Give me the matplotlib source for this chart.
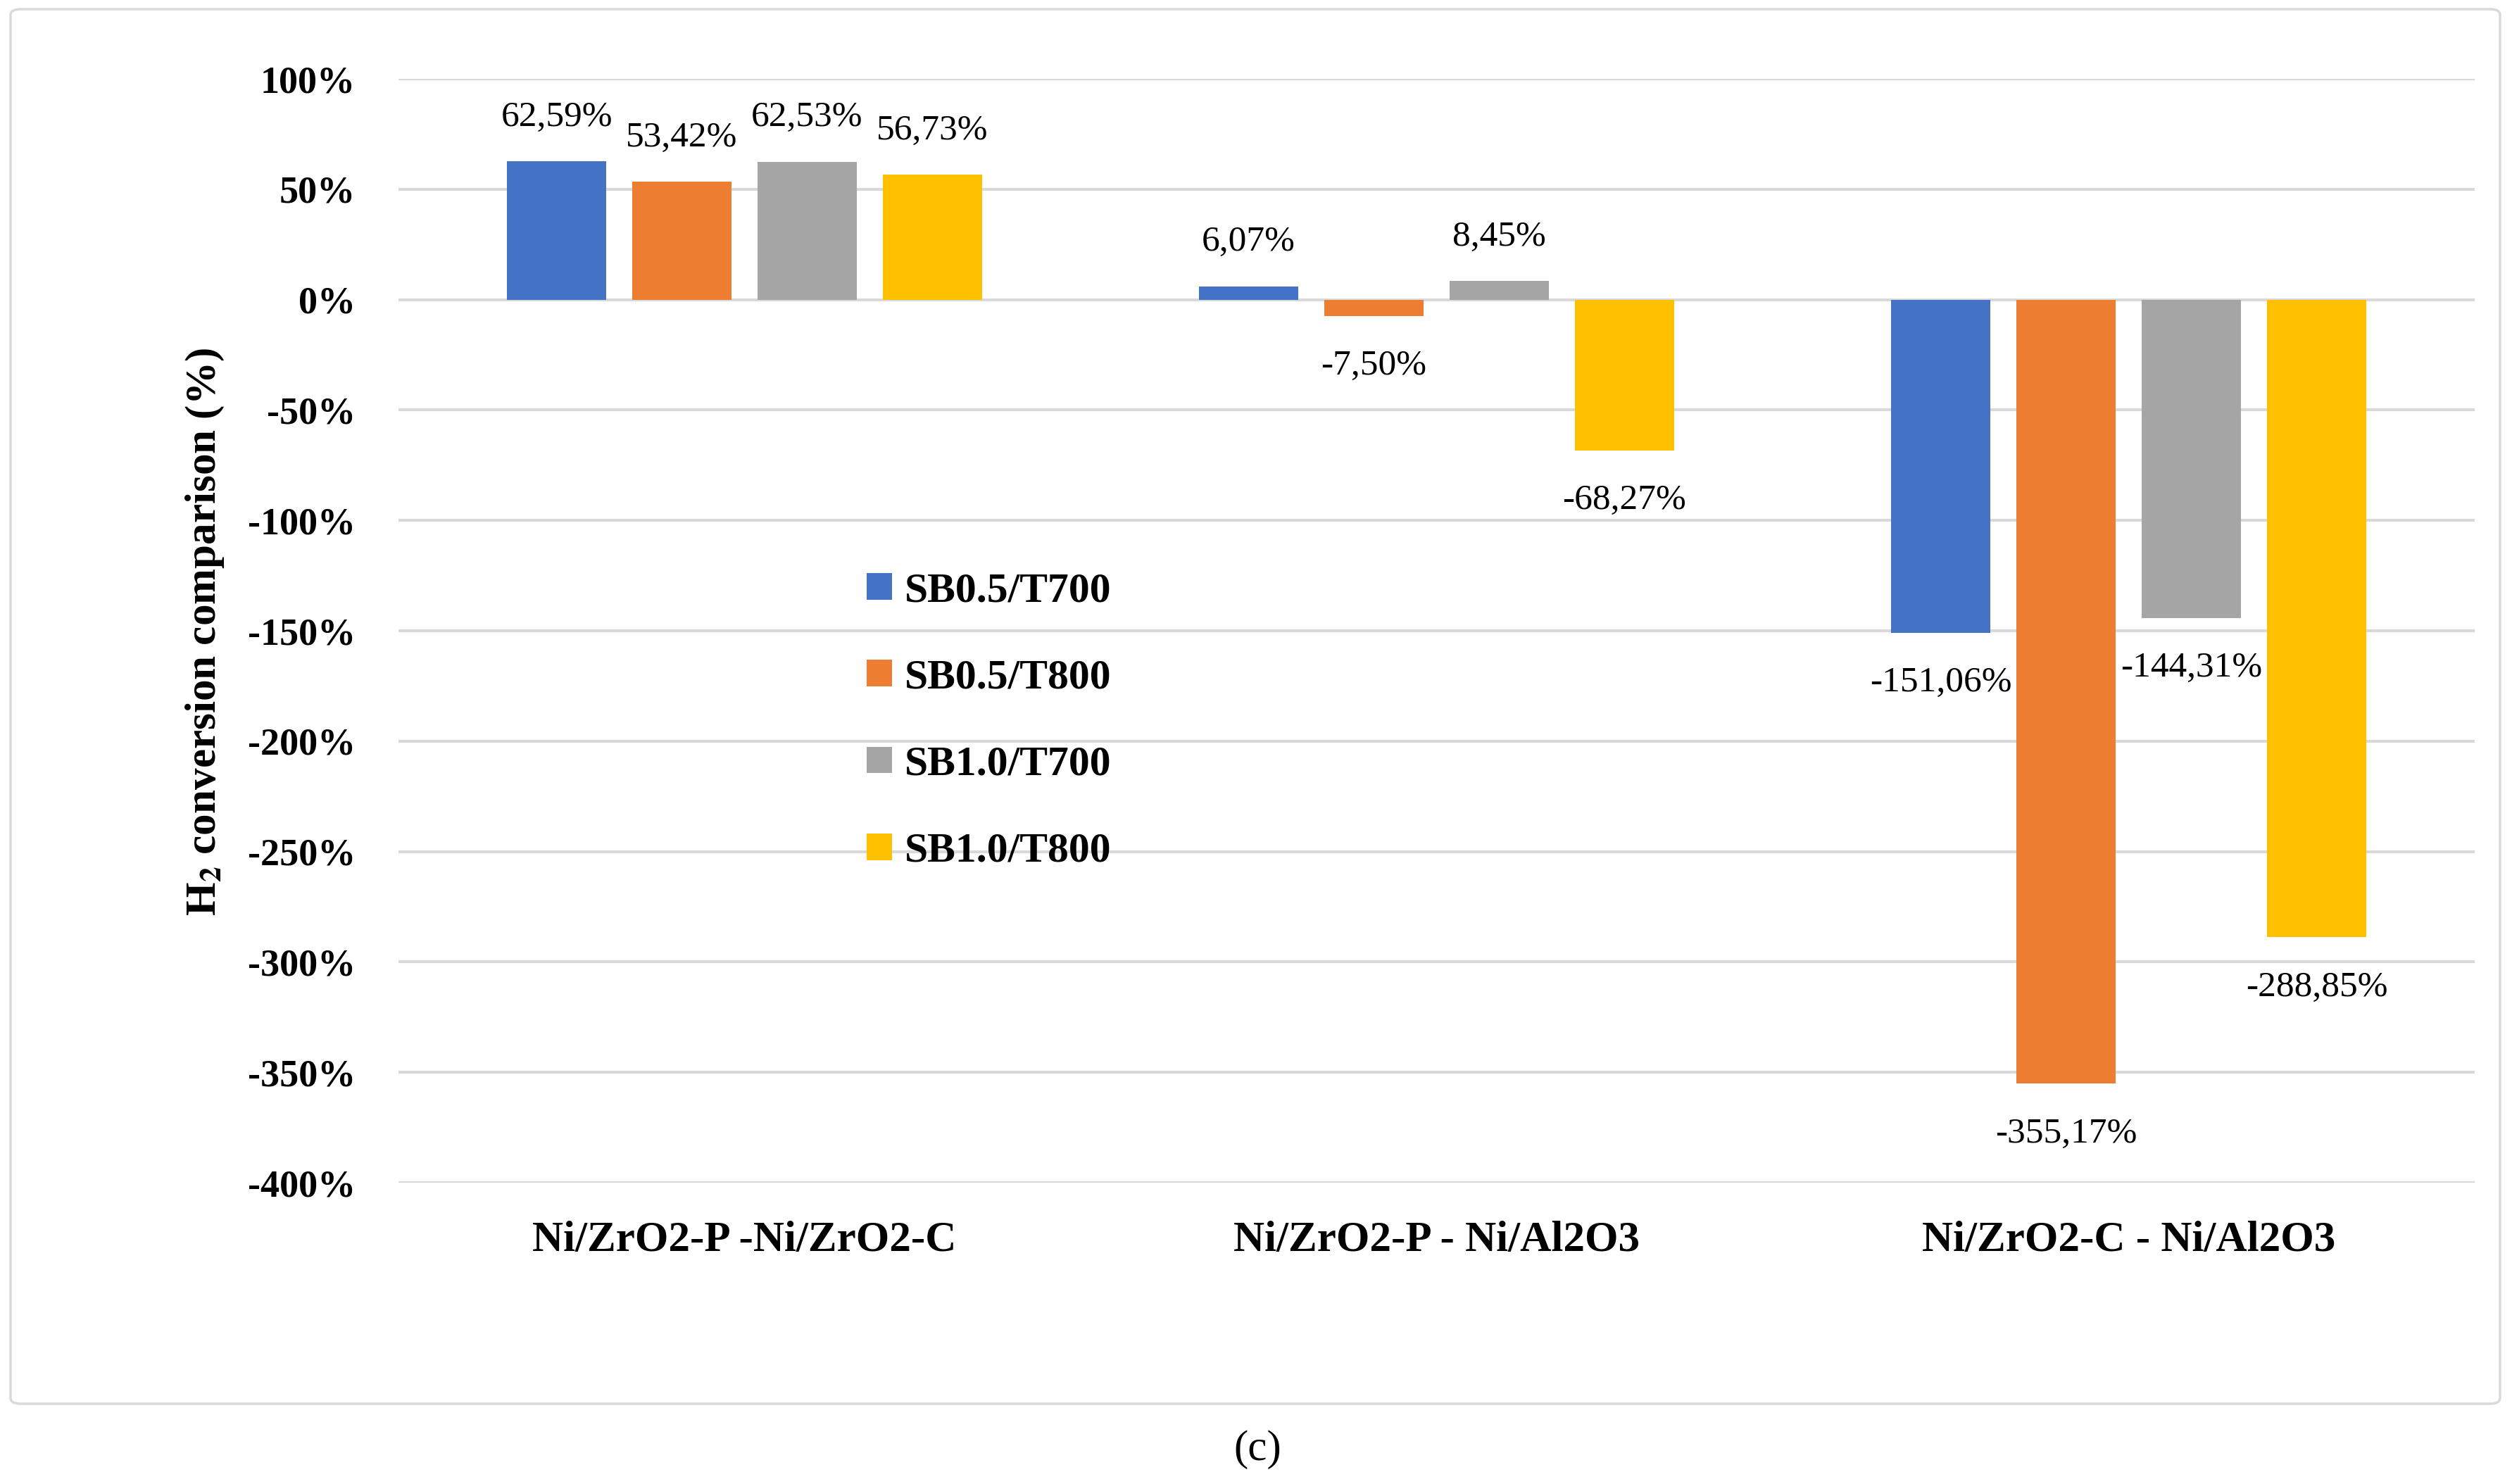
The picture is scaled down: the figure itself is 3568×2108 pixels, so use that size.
import matplotlib
matplotlib.use("Agg")
import matplotlib.pyplot as plt
from matplotlib.patches import FancyBboxPatch, Patch
import numpy as np

# ---- data ----
categories = ["Ni/ZrO2-P -Ni/ZrO2-C", "Ni/ZrO2-P - Ni/Al2O3", "Ni/ZrO2-C - Ni/Al2O3"]
series_names = ["SB0.5/T700", "SB0.5/T800", "SB1.0/T700", "SB1.0/T800"]
sb05_t700 = [62.59, 6.07, -151.06]
sb05_t800 = [53.42, -7.50, -355.17]
sb10_t700 = [62.53, 8.45, -144.31]
sb10_t800 = [56.73, -68.27, -288.85]
ytick_values = [100, 50, 0, -50, -100, -150, -200, -250, -300, -350, -400]
ytick_labels = ["100%", "50%", "0%", "-50%", "-100%", "-150%", "-200%",
                "-250%", "-300%", "-350%", "-400%"]
colors = ["#4472C4", "#ED7D31", "#A5A5A5", "#FFC000"]

SERIF = ["Liberation Serif", "DejaVu Serif"]
plt.rcParams["font.family"] = SERIF
plt.rcParams["mathtext.fontset"] = "stix"

W, H = 3568, 2108
fig = plt.figure(figsize=(W / 100, H / 100), dpi=100)

# chart border
fig.patches.append(FancyBboxPatch((15 / W, 1 - 1994 / H), (3551 - 15) / W, (1994 - 13) / H,
                                  boxstyle="round,pad=0,rounding_size=0.004",
                                  transform=fig.transFigure, fill=False,
                                  edgecolor="#D9D9D9", linewidth=2.5))

ax = fig.add_axes([566 / W, 1 - 1680 / H, (3515 - 566) / W, (1680 - 112) / H])

series = [sb05_t700, sb05_t800, sb10_t700, sb10_t800]
x = np.arange(len(categories))
bw = 0.143
step = 0.181
for i, (vals, name, c) in enumerate(zip(series, series_names, colors)):
    pos = x + (i - 1.5) * step
    ax.bar(pos, vals, width=bw, color=c, label=name, zorder=3)
    for px, v in zip(pos, vals):
        txt = f"{v:.2f}".replace(".", ",") + "%"
        off = 45 if v >= 0 else -51
        ax.annotate(txt, (px, v), xytext=(0, off), textcoords="offset points",
                    ha="center", va="center", fontsize=37, family=SERIF, zorder=4)

ax.set_xlim(-0.5, 2.5)
ax.set_ylim(-400, 100)
ax.set_yticks(ytick_values)
ax.set_yticklabels(ytick_labels, fontsize=39, fontweight="bold")
ax.set_xticks(x)
ax.set_xticklabels(categories, fontsize=44, fontweight="bold")
ax.tick_params(axis="both", length=0)
ax.tick_params(axis="y", pad=44)
ax.tick_params(axis="x", pad=39)
for s in ax.spines.values():
    s.set_visible(False)
ax.grid(axis="y", color="#D9D9D9", linewidth=3, zorder=0)
ax.set_axisbelow(True)

# y label
fig.text(291 / W, 1 - 898 / H, r"H$_{\mathbf{2}}$ conversion comparison (%)",
         rotation=90, ha="center", va="center", fontsize=44, fontweight="bold")

# legend
handles = [Patch(facecolor=c, edgecolor="none") for c in colors]
fig.legend(handles, series_names, loc="upper left",
           bbox_to_anchor=(1231 / W, 1 - 813 / H), bbox_transform=fig.transFigure,
           frameon=False, borderpad=0, borderaxespad=0,
           handlelength=0.6, handleheight=0.6, handletextpad=0.3,
           labelspacing=1.16, prop={"family": SERIF, "weight": "bold", "size": 43})

# caption
fig.text(1786 / W, 1 - 2059 / H, "(c)", ha="center", va="center", fontsize=44)

fig.savefig("out.png", dpi=100, facecolor="white")
